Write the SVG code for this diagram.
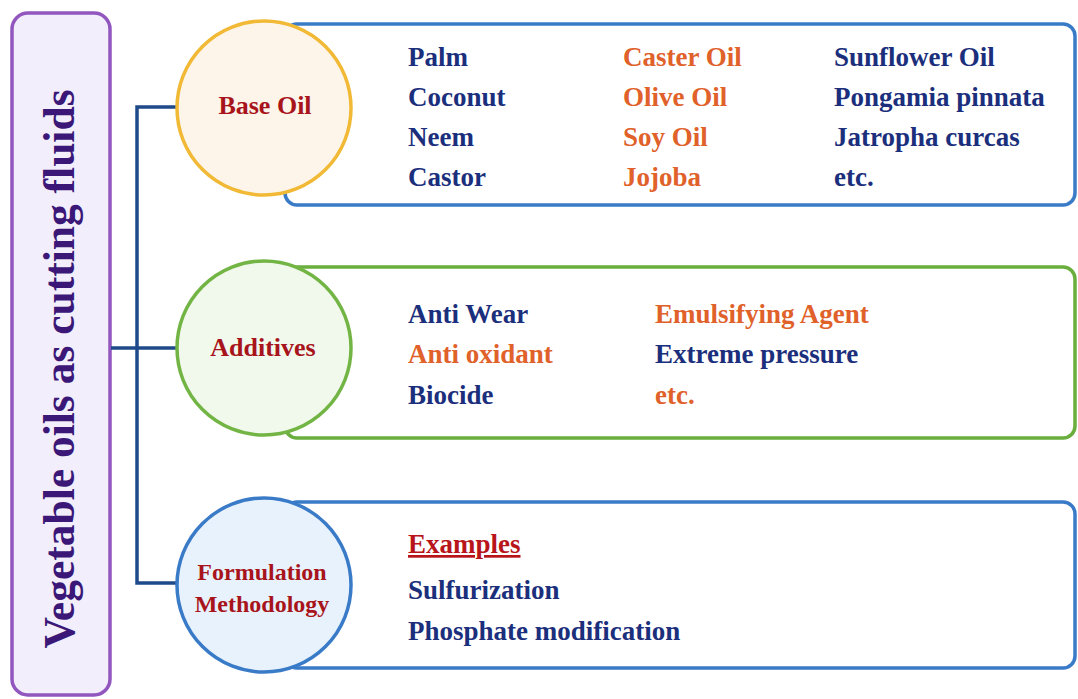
<svg xmlns="http://www.w3.org/2000/svg" width="1078" height="699" viewBox="0 0 1078 699">
<style>
  text { font-family: "Liberation Serif", "Times New Roman", serif; font-weight: bold; }
  .t { font-size: 27px; }
  .navy { fill: #1b2f7c; }
  .orange { fill: #e0612a; }
  .lbl { font-size: 26px; fill: #a8141b; text-anchor: middle; }
  .lbl2 { font-size: 24px; fill: #a8141b; text-anchor: middle; }
  .conn { stroke: #1f4a8a; stroke-width: 3.5; fill: none; }
  .box { fill: #ffffff; stroke-width: 3.5; }
</style>
<rect width="1078" height="699" fill="#ffffff"/>

<g id="title">
  <rect x="12" y="13" width="98" height="682" rx="16" ry="16" fill="#f2eefc" stroke="#9257bf" stroke-width="3.5"/>
  <text transform="translate(74,369) rotate(-90)" text-anchor="middle" font-size="43.5" fill="#3b1878">Vegetable oils as cutting fluids</text>
</g>

<g id="connectors">
  <path class="conn" d="M178,107 H137 V583 H178"/>
  <path class="conn" d="M111,348 H178"/>
</g>

<g id="base-oil">
  <rect class="box" x="285" y="24" width="790" height="181" rx="12" ry="12" stroke="#3a7bc8"/>
  <circle cx="264" cy="108" r="87" fill="#fdf5ea" stroke="#f1b935" stroke-width="3.5"/>
  <text class="lbl" x="265" y="114">Base Oil</text>
  <text class="t navy" x="408" y="66">Palm</text>
  <text class="t navy" x="408" y="106">Coconut</text>
  <text class="t navy" x="408" y="146">Neem</text>
  <text class="t navy" x="408" y="186">Castor</text>
  <text class="t orange" x="623" y="66">Caster Oil</text>
  <text class="t orange" x="623" y="106">Olive Oil</text>
  <text class="t orange" x="623" y="146">Soy Oil</text>
  <text class="t orange" x="623" y="186">Jojoba</text>
  <text class="t navy" x="834" y="66">Sunflower Oil</text>
  <text class="t navy" x="834" y="106">Pongamia pinnata</text>
  <text class="t navy" x="834" y="146">Jatropha curcas</text>
  <text class="t navy" x="834" y="186">etc.</text>
</g>

<g id="additives">
  <rect class="box" x="285" y="267" width="790" height="171" rx="12" ry="12" stroke="#6aae3e"/>
  <circle cx="264" cy="348" r="87" fill="#f1f9ec" stroke="#73b545" stroke-width="3.5"/>
  <text class="lbl" x="263" y="356">Additives</text>
  <text class="t navy" x="408" y="323">Anti Wear</text>
  <text class="t orange" x="408" y="363">Anti oxidant</text>
  <text class="t navy" x="408" y="404">Biocide</text>
  <text class="t orange" x="655" y="323">Emulsifying Agent</text>
  <text class="t navy" x="655" y="363">Extreme pressure</text>
  <text class="t orange" x="655" y="404">etc.</text>
</g>

<g id="formulation">
  <rect class="box" x="285" y="502" width="790" height="166" rx="12" ry="12" stroke="#3a7bc8"/>
  <circle cx="264" cy="585" r="87" fill="#e8f2fc" stroke="#3a7bc8" stroke-width="3.5"/>
  <text class="lbl2" x="262" y="580">Formulation</text>
  <text class="lbl2" x="262" y="612">Methodology</text>
  <text class="t" x="408" y="553" fill="#b8151b" text-decoration="underline">Examples</text>
  <text class="t navy" x="408" y="599">Sulfurization</text>
  <text class="t navy" x="408" y="640">Phosphate modification</text>
</g>
</svg>
